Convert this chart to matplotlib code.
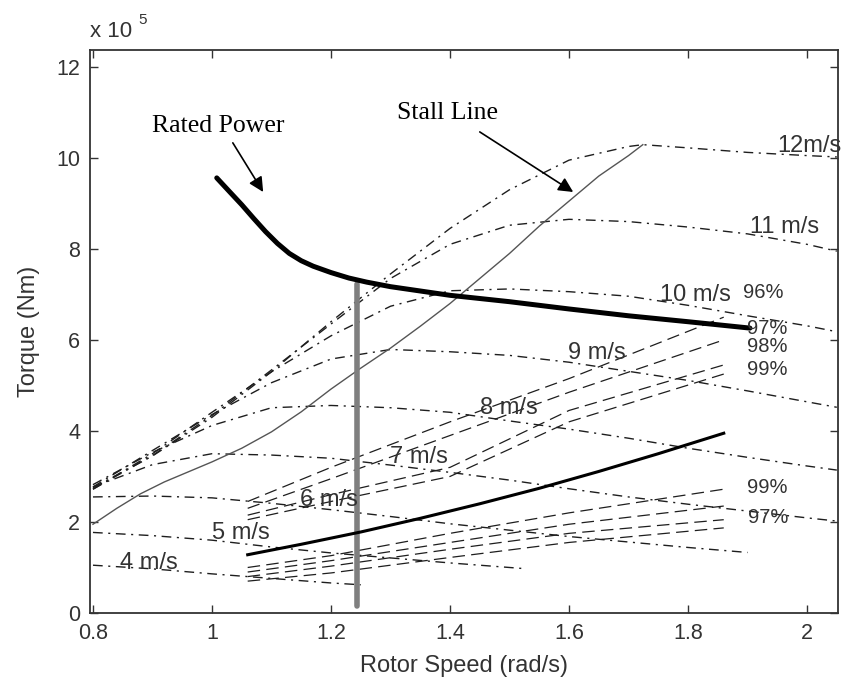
import matplotlib
matplotlib.use("Agg")
import matplotlib.pyplot as plt

# ---------------- data (torque in units of 1e5 Nm) ----------------
grid_full = [0.80, 0.90, 1.00, 1.10, 1.20, 1.30, 1.40, 1.50, 1.60, 1.70, 1.80, 1.90, 2.00, 2.05]

w12_x = [0.80, 0.90, 1.00, 1.10, 1.20, 1.30, 1.40, 1.50, 1.60, 1.70, 1.724, 1.80, 1.90, 2.00, 2.05]
w12_y = [2.75, 3.45, 4.30, 5.30, 6.40, 7.45, 8.45, 9.30, 9.95, 10.25, 10.29, 10.22, 10.12, 10.05, 10.02]
w11_y = [2.72, 3.46, 4.34, 5.34, 6.35, 7.35, 8.10, 8.52, 8.65, 8.60, 8.48, 8.33, 8.10, 7.95]
w10_y = [2.72, 3.50, 4.41, 5.30, 6.09, 6.74, 7.08, 7.12, 7.06, 6.96, 6.76, 6.53, 6.31, 6.18]
w9_y = [2.77, 3.57, 4.36, 5.06, 5.58, 5.79, 5.74, 5.66, 5.51, 5.31, 5.11, 4.88, 4.64, 4.52]
w8_y = [2.82, 3.53, 4.12, 4.51, 4.56, 4.51, 4.41, 4.22, 4.04, 3.84, 3.62, 3.42, 3.23, 3.14]
w7_y = [2.77, 3.26, 3.50, 3.47, 3.40, 3.25, 3.09, 2.92, 2.73, 2.55, 2.39, 2.24, 2.09, 2.02]
w6_x = [0.80, 0.90, 1.00, 1.10, 1.20, 1.30, 1.40, 1.50, 1.60, 1.70, 1.80, 1.90]
w6_y = [2.55, 2.57, 2.53, 2.41, 2.27, 2.12, 1.96, 1.82, 1.68, 1.56, 1.44, 1.33]
w5_x = [0.80, 0.90, 1.00, 1.10, 1.20, 1.30, 1.40, 1.52]
w5_y = [1.77, 1.70, 1.60, 1.45, 1.32, 1.21, 1.10, 0.98]
w4_x = [0.80, 0.90, 1.00, 1.10, 1.20, 1.25]
w4_y = [1.05, 0.97, 0.86, 0.76, 0.66, 0.62]

rated_x = [1.008, 1.03, 1.05, 1.07, 1.09, 1.11, 1.13, 1.15, 1.17, 1.20, 1.23, 1.26, 1.30,
           1.40, 1.50, 1.60, 1.70, 1.80, 1.904]
rated_y = [9.56, 9.25, 8.97, 8.67, 8.38, 8.12, 7.90, 7.74, 7.62, 7.48, 7.36, 7.27, 7.17,
           6.98, 6.84, 6.68, 6.53, 6.40, 6.26]

stall_x = [0.80, 0.84, 0.88, 0.92, 0.96, 1.00, 1.05, 1.10, 1.15, 1.20, 1.25, 1.30, 1.35,
           1.40, 1.45, 1.50, 1.55, 1.60, 1.65, 1.70, 1.724]
stall_y = [1.95, 2.30, 2.62, 2.88, 3.10, 3.32, 3.62, 3.98, 4.42, 4.92, 5.38, 5.82, 6.30,
           6.80, 7.35, 7.90, 8.50, 9.05, 9.60, 10.05, 10.29]

opt_x = [1.06, 1.15, 1.25, 1.35, 1.45, 1.55, 1.65, 1.75, 1.86]
opt_y = [1.28, 1.51, 1.78, 2.08, 2.40, 2.74, 3.11, 3.50, 3.95]

eff_x = [1.06, 1.20, 1.40, 1.60, 1.86]
up96_y = [2.45, 3.20, 4.20, 5.15, 6.50]
up97_y = [2.30, 2.95, 3.90, 4.85, 6.00]
up98_y = [2.15, 2.60, 3.20, 4.45, 5.45]
up99_y = [2.05, 2.45, 3.00, 4.20, 5.25]
lo99_y = [1.00, 1.26, 1.75, 2.20, 2.72]
lo98_y = [0.90, 1.15, 1.55, 1.95, 2.35]
lo97_y = [0.80, 1.03, 1.40, 1.75, 2.05]
lo96_y = [0.70, 0.88, 1.22, 1.55, 1.87]

bar_x = [1.244, 1.244]
bar_y = [0.15, 7.22]

x_ticks = [0.8, 1.0, 1.2, 1.4, 1.6, 1.8, 2.0]
x_ticklabels = ["0.8", "1", "1.2", "1.4", "1.6", "1.8", "2"]
y_ticks = [0, 2, 4, 6, 8, 10, 12]
y_ticklabels = ["0", "2", "4", "6", "8", "10", "12"]

wind_labels = ["12m/s", "11 m/s", "10 m/s", "9 m/s", "8 m/s", "7 m/s", "6 m/s", "5 m/s", "4 m/s"]
wind_label_x = [1.95, 1.904, 1.753, 1.598, 1.45, 1.299, 1.148, 1.00, 0.845]
wind_label_y = [10.25, 8.48, 6.99, 5.71, 4.50, 3.43, 2.48, 1.76, 1.10]

pct_labels = ["96%", "97%", "98%", "99%", "99%", "97%"]
pct_label_x = [1.892, 1.899, 1.899, 1.899, 1.899, 1.900]
pct_label_y = [7.05, 6.26, 5.85, 5.34, 2.75, 2.09]

# ---------------- figure ----------------
plt.rcParams['font.family'] = ['Liberation Sans', 'DejaVu Sans']
fig = plt.figure(figsize=(8.54, 6.86), dpi=100)
ax = fig.add_axes([90 / 854, 1 - 613 / 686, (838 - 90) / 854, (613 - 50) / 686])

dashdot = (0, (7, 4, 1.5, 4))
dashed = (0, (10, 5))
wc = '#1e1e1e'
for xs, ys in [(w12_x, w12_y), (grid_full, w11_y), (grid_full, w10_y), (grid_full, w9_y),
               (grid_full, w8_y), (grid_full, w7_y), (w6_x, w6_y), (w5_x, w5_y), (w4_x, w4_y)]:
    ax.plot(xs, ys, linestyle=dashdot, color=wc, lw=1.0, zorder=2)

for ys in [up96_y, up97_y, up98_y, up99_y, lo99_y, lo98_y, lo97_y, lo96_y]:
    ax.plot(eff_x, ys, linestyle=dashed, color=wc, lw=0.9, zorder=2)

ax.plot(stall_x, stall_y, color='#555555', lw=1.0, zorder=3)
ax.plot(bar_x, bar_y, color='#7f7f7f', lw=4.0, solid_capstyle='round', zorder=3)
ax.plot(opt_x, opt_y, color='black', lw=2.2, zorder=4)
ax.plot(rated_x, rated_y, color='black', lw=3.6, solid_capstyle='round',
        solid_joinstyle='round', zorder=5)

tc = '#333333'
for lab, lx, ly in zip(wind_labels, wind_label_x, wind_label_y):
    ax.text(lx, ly, lab, fontsize=17, color=tc, ha='left', va='center', clip_on=False, zorder=6)
for lab, lx, ly in zip(pct_labels, pct_label_x, pct_label_y):
    ax.text(lx, ly, lab, fontsize=14.5, color=tc, ha='left', va='center', clip_on=False, zorder=6)

arrow_kw = dict(arrowstyle='-|>', color='black', lw=1.2, mutation_scale=22, shrinkA=0, shrinkB=0)
ax.text(0.899, 10.57, "Rated Power", fontsize=18.5, family='Liberation Serif',
        color='black', ha='left', va='baseline', zorder=7)
ax.annotate("", xy=(1.086, 9.25), xytext=(1.035, 10.33), arrowprops=arrow_kw, zorder=7)
ax.text(1.311, 10.86, "Stall Line", fontsize=18.5, family='Liberation Serif',
        color='black', ha='left', va='baseline', zorder=7)
ax.annotate("", xy=(1.607, 9.25), xytext=(1.45, 10.57), arrowprops=arrow_kw, zorder=7)

ax.set_xlim(0.795, 2.052)
ax.set_ylim(0, 12.37)
ax.set_xticks(x_ticks)
ax.set_xticklabels(x_ticklabels)
ax.set_yticks(y_ticks)
ax.set_yticklabels(y_ticklabels)
ax.tick_params(direction='in', top=True, right=True, length=6, width=1.0,
               labelsize=15.5, colors='#333333', pad=7)
for sp in ax.spines.values():
    sp.set_linewidth(1.3)
    sp.set_color('#333333')

ax.set_xlabel("Rotor Speed (rad/s)", fontsize=17, color=tc, labelpad=8)
ax.set_ylabel("Torque (Nm)", fontsize=17, color=tc, labelpad=12)

ax.text(0.0, 1.023, "x 10", transform=ax.transAxes, fontsize=16, color=tc,
        ha='left', va='baseline')
ax.text(0.064, 1.046, "5", transform=ax.transAxes, fontsize=11, color=tc,
        ha='left', va='baseline')

fig.savefig("out.png", dpi=100)
